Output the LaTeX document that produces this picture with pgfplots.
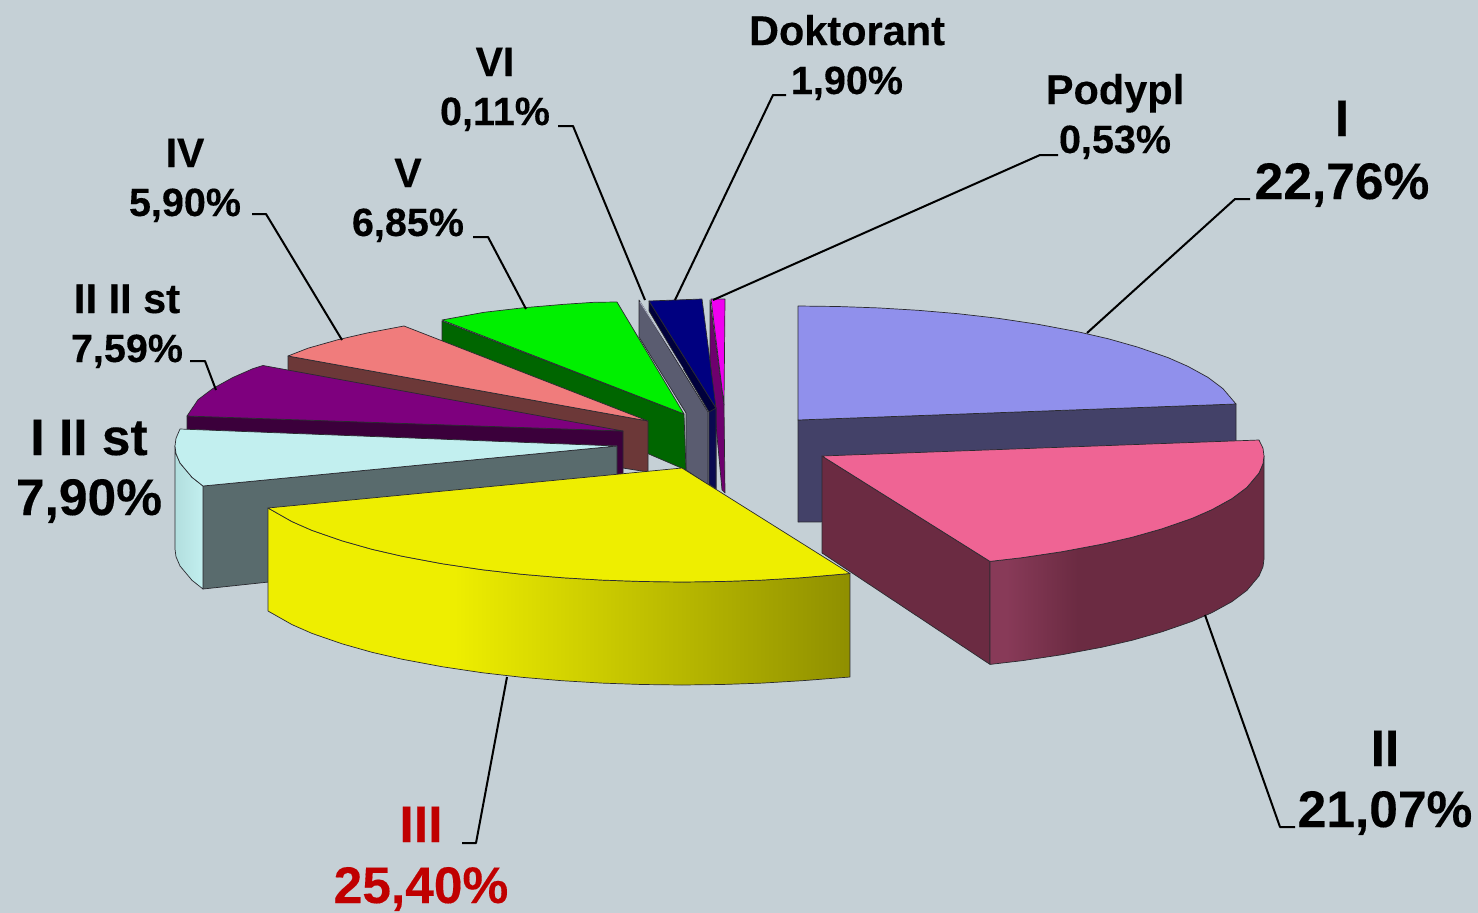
\documentclass[border=0pt]{standalone}
\usepackage{pgfplots}
\pgfplotsset{compat=1.18}
\usepackage{fontspec}
\setmainfont{Liberation Sans}[BoldFeatures={FakeBold=0.25}]
\definecolor{bgc}{HTML}{C5D0D6}
\definecolor{edgec}{HTML}{2A2A30}
\definecolor{marl}{HTML}{883A58}
\definecolor{mard}{HTML}{6B2B42}
\definecolor{cyl}{HTML}{B2DEDE}
\definecolor{cyr}{HTML}{C2EFEF}
\definecolor{yl}{HTML}{EEEE00}
\definecolor{yd}{HTML}{8F8F00}
\definecolor{Iside}{HTML}{434168}
\definecolor{Itop}{HTML}{9090EC}
\definecolor{Pside}{HTML}{6E006E}
\definecolor{Ptop}{HTML}{F000F0}
\definecolor{Dside}{HTML}{00003C}
\definecolor{Dfront}{HTML}{0A0A50}
\definecolor{Dtop}{HTML}{000080}
\definecolor{VIside}{HTML}{5A5C70}
\definecolor{VIline}{HTML}{B0B4C8}
\definecolor{Vside}{HTML}{006600}
\definecolor{Vtop}{HTML}{00F000}
\definecolor{IVside}{HTML}{6C3838}
\definecolor{IVtop}{HTML}{F07C7C}
\definecolor{IIIIside}{HTML}{3B003B}
\definecolor{IIIItop}{HTML}{7E007E}
\definecolor{IsIIside}{HTML}{596B6D}
\definecolor{IItop}{HTML}{EF6494}
\definecolor{redt}{HTML}{C00000}
\pgfdeclarehorizontalshading{yelside}{100bp}{color(0bp)=(yl); color(25bp)=(yl); color(41bp)=(yl); color(75bp)=(yd); color(100bp)=(yd)}
\pgfdeclarehorizontalshading{marside}{100bp}{color(0bp)=(marl); color(28bp)=(marl); color(41bp)=(mard); color(100bp)=(mard)}
\pgfdeclarehorizontalshading{cyside}{100bp}{color(0bp)=(cyl); color(25bp)=(cyl); color(75bp)=(cyr); color(100bp)=(cyr)}
\newcommand{\poly}[2]{\addplot[draw=edgec,fill=#1,line width=.7pt,line join=round,forget plot] coordinates {#2} -- cycle;}
\newcommand{\shpoly}[2]{\addplot[draw=edgec,shade,shading=#1,line width=.7pt,line join=round,forget plot] coordinates {#2} -- cycle;}
\newcommand{\leader}[1]{\addplot[draw=black,line width=2pt,line join=round,forget plot] coordinates {#1};}
\newcommand{\lab}[4][black]{\node[anchor=base,inner sep=0pt,text=#1,font=\fontsize{#2}{#2}\selectfont\bfseries] at (axis cs:#3) {#4};}
\begin{document}
\begin{tikzpicture}
\begin{axis}[at={(0,0)},anchor=south west,scale only axis,width=1478pt,height=913pt,
  xmin=0,xmax=1478,ymin=0,ymax=913,y dir=reverse,hide axis,clip=false]
% background
\addplot[draw=none,fill=bgc,forget plot] coordinates {(0,0)(1478,0)(1478,913)(0,913)} -- cycle;
% I
\poly{Iside}{(798,420)(1236,404)(1236,520)(798,522)}
\poly{Itop}{(798,306)(838,306.5)(878,307.9)(918,310.3)(958,313.7)(998,318.3)(1038,324.3)(1078,331.8)(1108,338.7)(1138,347.2)(1168,357.6)(1188,366.4)(1208,377.4)(1223,388.7)(1236,404)(798,420)}
% Podypl
\poly{Pside}{(710,300)(724,405)(725,493)(722,490)(710,360)}
\poly{Ptop}{(711,299)(725,299)(724,405)}
% Doktorant
\poly{Dside}{(649,301)(716,408)(716,489)(709,484)(709,412)(649,311)}
\poly{Dfront}{(709,412)(716,408)(716,489)(709,484)}
\poly{Dtop}{(649,301)(702,299)(716,408)}
% VI
\poly{VIside}{(639,300)(708,412)(708,485)(686,470)(686,413)(639,337)}
\addplot[draw=VIline,line width=.8pt,forget plot] coordinates {(640,302)(683,369)};
% V
\poly{Vside}{(442,321)(684,414)(686,470)(442,365)}
\poly{Vtop}{(442,320)(484,312.3)(524,307.7)(564,304.3)(594,302.3)(617,302)(684,414)}
% IV
\poly{IVside}{(288,356)(648,421)(648,472)(288,415)}
\poly{IVtop}{(288,356)(308,348.2)(338,339.7)(368,332.8)(404,326)(648,421)}
% II II st
\poly{IIIIside}{(187,416)(623,431)(623,476)(187,440)}
\poly{IIIItop}{(187,416)(198,399.7)(213,388.4)(233,377.4)(253,368.6)(263,365.5)(623,431)}
% I II st
\poly{IsIIside}{(203,486)(617,446)(617,545)(203,589)}
\shpoly{cyside}{(175,446)(176,453.7)(180,463)(192,477.3)(203,486)(203,589)(192,580.3)(180,566)(176,556.7)(175,549)}
\poly{cyr}{(180,429)(617,446)(203,486)(192,477.3)(180,463)(176,453.7)(175,446)(176,438.3)}
% II
\poly{mard}{(822,456)(990,561.4)(990,664.4)(822,553)}
\shpoly{marside}{(990,561.4)(1022,557.7)(1062,551.7)(1102,544.2)(1132,537.3)(1162,528.8)(1192,518.4)(1212,509.6)(1232,498.6)(1247,487.3)(1259,473)(1263,463.7)(1264,456)(1264,559)(1263,566.7)(1259,576)(1247,590.3)(1232,601.6)(1212,612.6)(1192,621.4)(1162,631.8)(1132,640.3)(1102,647.2)(1062,654.7)(1022,660.7)(990,664.4)}
\poly{IItop}{(822,456)(1259,440)(1263,448.3)(1264,456)(1263,463.7)(1259,473)(1247,487.3)(1232,498.6)(1212,509.6)(1192,518.4)(1162,528.8)(1132,537.3)(1102,544.2)(1062,551.7)(1022,557.7)(990,561.4)}
% III
\shpoly{yelside}{(268,508)(292,521.6)(312,530.4)(342,540.8)(372,549.3)(402,556.2)(442,563.7)(482,569.7)(522,574.3)(562,577.7)(602,580.1)(642,581.5)(682,582)(722,581.5)(762,580.1)(802,577.7)(850,573.5)(850,677)(802,680.7)(762,683.1)(722,684.5)(682,685)(642,684.5)(602,683.1)(562,680.7)(522,677.3)(482,672.7)(442,666.7)(402,659.2)(372,652.3)(342,643.8)(312,633.4)(292,624.6)(268,611)}
\poly{yl}{(268,508)(682,468)(850,573.5)(802,577.7)(762,580.1)(722,581.5)(682,582)(642,581.5)(602,580.1)(562,577.7)(522,574.3)(482,569.7)(442,563.7)(402,556.2)(372,549.3)(342,540.8)(312,530.4)(292,521.6)}
% leaders
\leader{(1250,199)(1235,199)(1087,333)}
\leader{(1295,827)(1280,827)(1205,615)}
\leader{(462,843)(476,843)(507,677)}
\leader{(190,361)(205,361)(216,390)}
\leader{(252,214)(266,214)(342,340)}
\leader{(473,237)(488,237)(526,309)}
\leader{(558,126)(573,126)(645,300)}
\leader{(786,95)(773,95)(675,300)}
\leader{(1058,155)(1040,155)(713,300)}
% labels
\lab{51.5}{1342,136}{I}
\lab{51.5}{1342,199}{22,76\%}
\lab{51.5}{1385,766}{II}
\lab{51.5}{1385,827}{21,07\%}
\lab[redt]{51.5}{421,842}{III}
\lab[redt]{51.5}{421,903}{25,40\%}
\lab{51.5}{89,455}{I II st}
\lab{51.5}{89,515}{7,90\%}
\lab{41.5}{127,313}{II II st}
\lab{39.5}{127,362}{7,59\%}
\lab{41}{185,167}{IV}
\lab{39.5}{185,216}{5,90\%}
\lab{41}{408,187}{V}
\lab{39.5}{408,236}{6,85\%}
\lab{41}{495,76}{VI}
\lab{39.5}{495,125}{0,11\%}
\lab{41.5}{847,45}{Doktorant}
\lab{39.5}{847,94}{1,90\%}
\lab{41.5}{1115,104}{Podypl}
\lab{39.5}{1115,153}{0,53\%}
\end{axis}
\end{tikzpicture}
\end{document}
